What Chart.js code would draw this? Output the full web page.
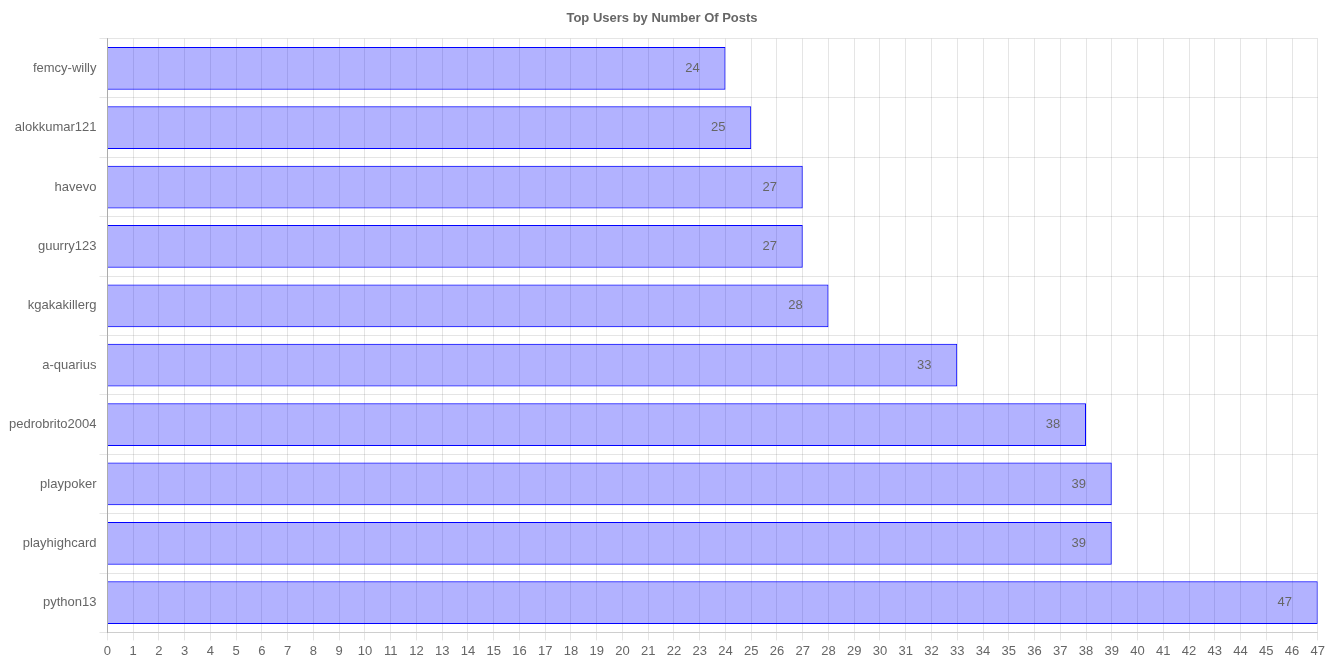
<!DOCTYPE html>
<html>
<head>
<meta charset="utf-8">
<script src="https://cdn.jsdelivr.net/npm/chart.js@4.4.0/dist/chart.umd.min.js"></script>
<style>
html,body{margin:0;padding:0;background:#fff;}
#wrap{width:1328px;height:664px;position:relative;}
</style>
</head>
<body>
<div id="wrap"><canvas id="c"></canvas></div>
<script>
const users = ["femcy-willy","alokkumar121","havevo","guurry123","kgakakillerg","a-quarius","pedrobrito2004","playpoker","playhighcard","python13"];
const posts = [24,25,27,27,28,33,38,39,39,47];
const chartTitle = "Top Users by Number Of Posts";

const valueLabels = {
  id: 'valueLabels',
  afterDatasetsDraw(chart) {
    const ctx = chart.ctx;
    const meta = chart.getDatasetMeta(0);
    ctx.save();
    ctx.font = '13px "Liberation Sans", Arial, sans-serif';
    ctx.fillStyle = '#666';
    ctx.textAlign = 'center';
    ctx.textBaseline = 'middle';
    meta.data.forEach((bar, i) => {
      ctx.fillText(String(posts[i]), bar.x - 33, bar.y);
    });
    ctx.restore();
  }
};

Chart.defaults.font.family = '"Liberation Sans", Arial, sans-serif';
Chart.defaults.font.size = 13;
Chart.defaults.color = '#666';

new Chart(document.getElementById('c'), {
  type: 'bar',
  data: {
    labels: users,
    datasets: [{
      data: posts,
      backgroundColor: 'rgba(0,0,255,0.3)',
      borderColor: 'rgb(0,0,255)',
      borderWidth: 1
    }]
  },
  options: {
    indexAxis: 'y',
    responsive: true,
    maintainAspectRatio: false,
    animation: false,
    layout: { padding: { right: 10, bottom: 2, left: 6, top: 0 } },
    plugins: {
      legend: { display: false },
      tooltip: { enabled: false },
      title: {
        display: true,
        text: chartTitle,
        color: '#666',
        font: { size: 13, weight: 'bold' },
        padding: { top: 11, bottom: 12 }
      }
    },
    scales: {
      x: {
        min: 0, max: 47,
        ticks: { stepSize: 1, color: '#666', font: { size: 13 }, maxRotation: 0, autoSkip: false },
        grid: { color: 'rgba(0,0,0,0.1)' },
        border: { color: 'rgba(0,0,0,0.1)' }
      },
      y: {
        ticks: { color: '#666', font: { size: 13 } },
        grid: { color: 'rgba(0,0,0,0.1)', offset: true },
        border: { color: 'rgba(0,0,0,0.25)' }
      }
    }
  },
  plugins: [valueLabels]
});
</script>
</body>
</html>
